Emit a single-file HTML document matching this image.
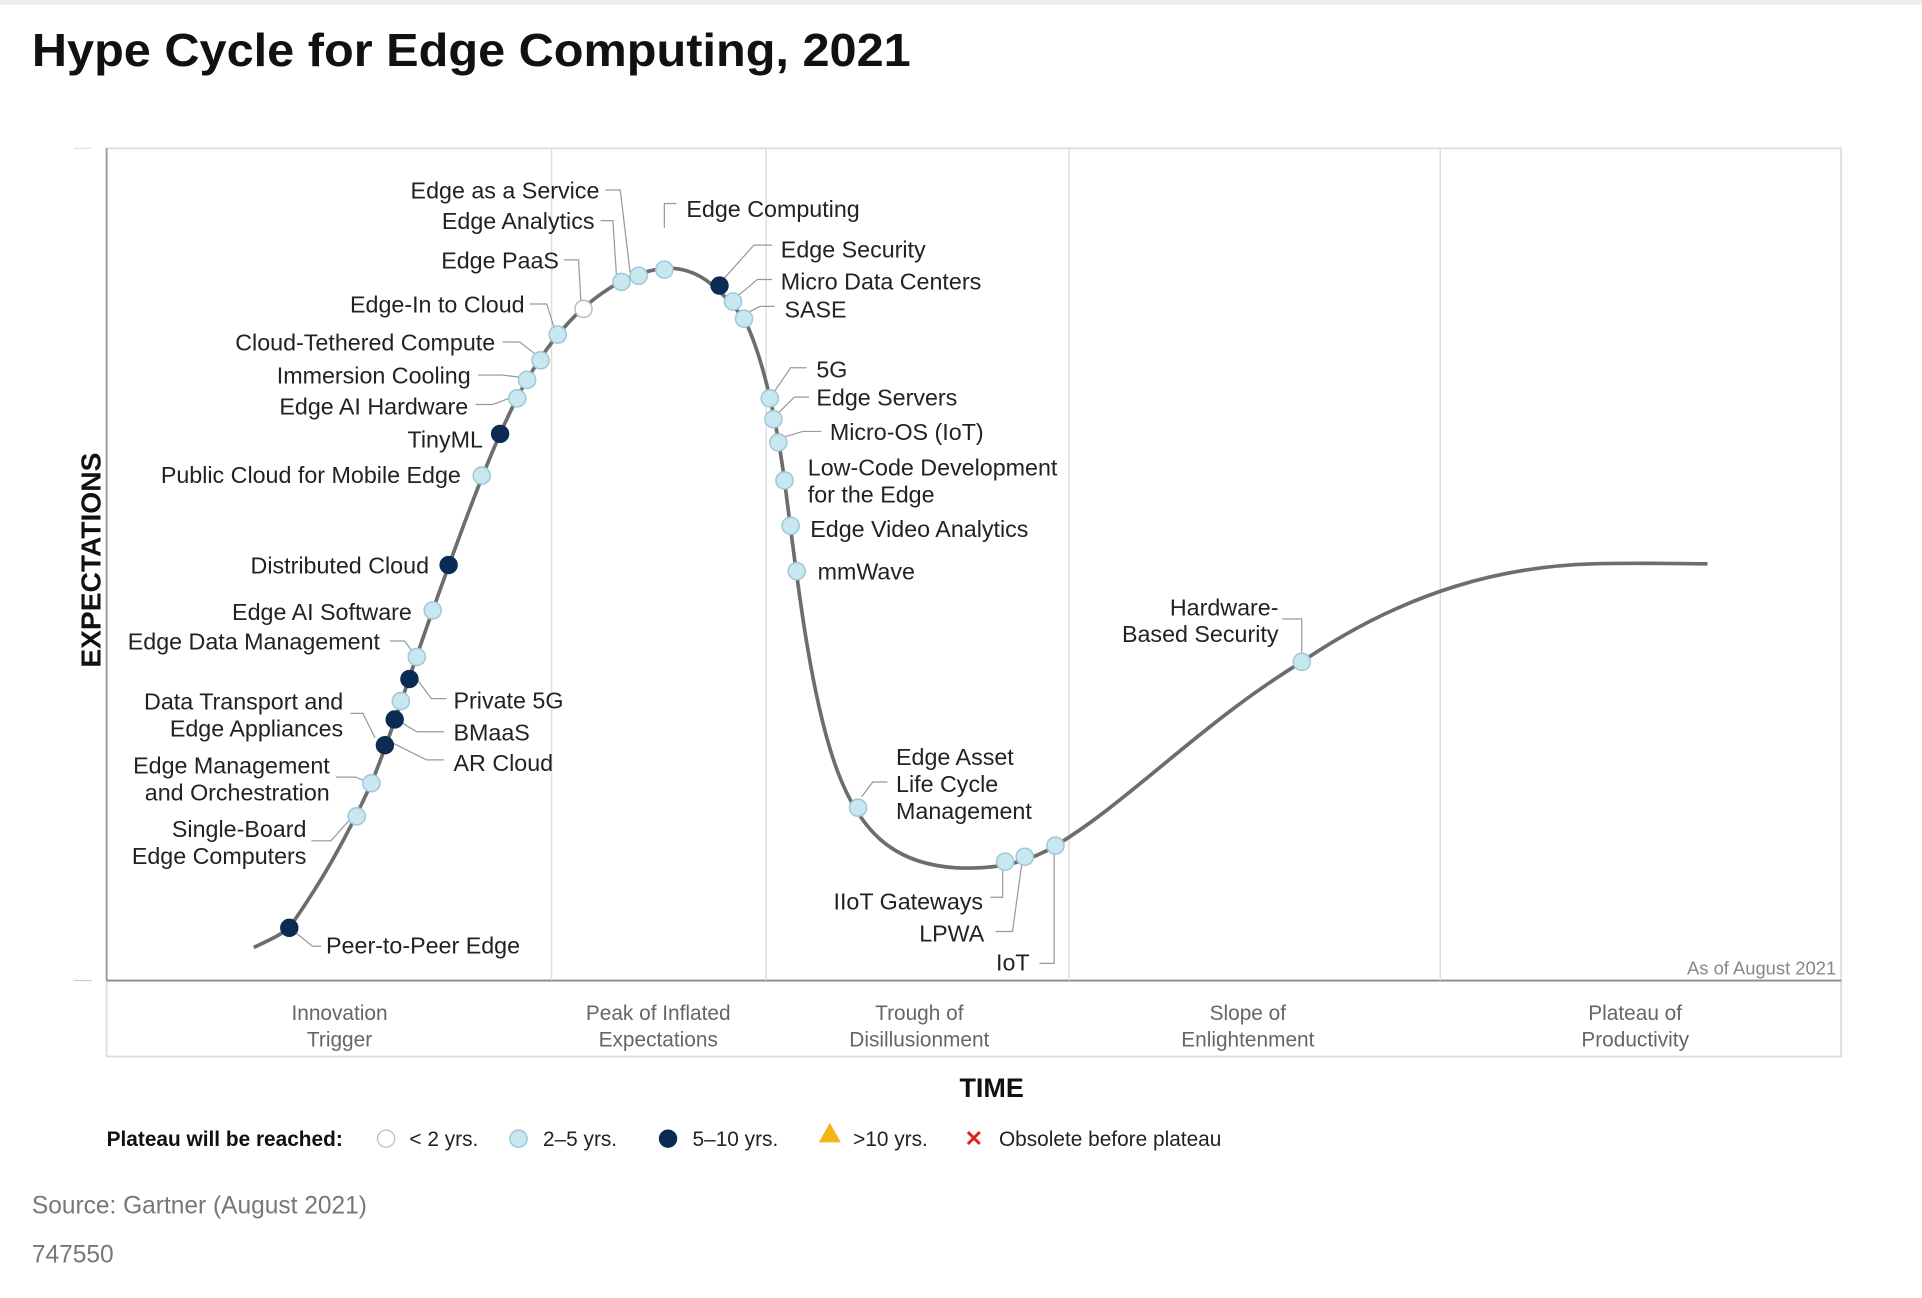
<!DOCTYPE html>
<html><head><meta charset="utf-8"><style>
html,body{margin:0;padding:0;background:#fff;}
svg{display:block;}
text{font-family:"Liberation Sans",sans-serif;}
.l{font-size:19px;fill:#222;}
.ph{font-size:17px;fill:#666;text-anchor:middle;}
.ld{stroke:#999;stroke-width:1;fill:none;}
.a{fill:#c8e7f0;stroke:#9cc9d6;stroke-width:1.2;}
.d{fill:#0b2b52;stroke:#0b2b52;}
</style></head><body>
<svg width="1922" height="1298" viewBox="0 0 1568 1059" preserveAspectRatio="none" xmlns="http://www.w3.org/2000/svg">
<rect x="0" y="0" width="1568" height="1059" fill="#fff"/>
<rect x="0" y="0" width="1568" height="4" fill="#eee"/>
<text x="26" y="54" textLength="717" lengthAdjust="spacingAndGlyphs" style="font-size:38px;font-weight:bold;fill:#111">Hype Cycle for Edge Computing, 2021</text>
<rect x="87" y="121" width="1415" height="741" fill="none" stroke="#ddd" stroke-width="1.5"/>
<line x1="87" y1="800" x2="1502" y2="800" stroke="#888" stroke-width="1.5"/>
<line x1="87" y1="121" x2="87" y2="800" stroke="#999" stroke-width="1.5"/>
<line x1="60" y1="121" x2="75" y2="121" stroke="#ddd"/>
<line x1="60" y1="800" x2="75" y2="800" stroke="#ccc"/>
<g stroke="#ddd" stroke-width="1.2">
<line x1="450" y1="121" x2="450" y2="800"/><line x1="625" y1="121" x2="625" y2="800"/>
<line x1="872" y1="121" x2="872" y2="800"/><line x1="1175" y1="121" x2="1175" y2="800"/>
</g>
<text class="ph" x="277" y="832">Innovation</text><text class="ph" x="277" y="854">Trigger</text>
<text class="ph" x="537" y="832">Peak of Inflated</text><text class="ph" x="537" y="854">Expectations</text>
<text class="ph" x="750" y="832">Trough of</text><text class="ph" x="750" y="854">Disillusionment</text>
<text class="ph" x="1018" y="832">Slope of</text><text class="ph" x="1018" y="854">Enlightenment</text>
<text class="ph" x="1334" y="832">Plateau of</text><text class="ph" x="1334" y="854">Productivity</text>
<text x="1498" y="795" style="font-size:15px;fill:#888;text-anchor:end">As of August 2021</text>
<text x="809" y="895" style="font-size:22px;font-weight:bold;fill:#111;text-anchor:middle">TIME</text>
<text transform="translate(82,457) rotate(-90)" style="font-size:23px;font-weight:bold;fill:#111;text-anchor:middle">EXPECTATIONS</text>
<path d="M207,773 C222,766 230,762 236,757 C262,720 282,685 303,639 C320,597 335,548 353,498 C372,445 390,395 408,354 C425,315 445,280 475,252 C500,230 525,218 550,219 C575,221 590,240 607,260 C622,290 633,340 640,392 C650,470 660,560 680,620 C700,680 730,705 780,708 C820,710 845,700 861,690 C920,655 980,590 1062,540 C1150,480 1230,462 1300,460 C1340,459 1370,460 1393,460" fill="none" stroke="#6d6d6d" stroke-width="3"/>
<g class="ld">
<path d="M494,155 H506 L514,222"/><path d="M490,180 H500 L503,226"/><path d="M460,212 H472 L474,248"/>
<path d="M542,186 V166 H552"/><path d="M590,228 L615,200 H630"/><path d="M600,243 L618,228 H630"/><path d="M608,256 L620,250 H632"/>
<path d="M432,248 H446 L452,267"/><path d="M410,279 H424 L438,290"/><path d="M390,306 H410 L426,308"/><path d="M388,330 H402 L418,324"/>
<path d="M630,322 L645,300 H658"/><path d="M634,338 L648,324 H660"/><path d="M638,357 L655,352 H670"/>
<path d="M318,523 H330 L337,532"/><path d="M286,582 H296 L306,602"/><path d="M274,634 H290 L300,638"/><path d="M254,686 H270 L286,668"/>
<path d="M340,554 L352,570 H364"/><path d="M325,588 L340,597 H362"/><path d="M318,605 L348,620 H362"/>
<path d="M240,760 L255,772 H262"/><path d="M703,650 L712,638 H724"/>
<path d="M818,705 V732 H808"/><path d="M834,702 L826,760 H812"/><path d="M860,695 V786 H848"/>
<path d="M1046,505 H1062 V536"/>
</g>
<g>
<circle class="d" cx="236" cy="757" r="7"/>
<circle class="a" cx="291" cy="666" r="7"/><circle class="a" cx="303" cy="639" r="7"/>
<circle class="d" cx="314" cy="608" r="7"/><circle class="d" cx="322" cy="587" r="7"/>
<circle class="a" cx="327" cy="572" r="7"/><circle class="d" cx="334" cy="554" r="7"/>
<circle class="a" cx="340" cy="536" r="7"/><circle class="a" cx="353" cy="498" r="7"/>
<circle class="d" cx="366" cy="461" r="7"/><circle class="a" cx="393" cy="388" r="7"/>
<circle class="d" cx="408" cy="354" r="7"/><circle class="a" cx="422" cy="325" r="7"/>
<circle class="a" cx="430" cy="310" r="7"/><circle class="a" cx="441" cy="294" r="7"/>
<circle class="a" cx="455" cy="273" r="7"/><circle cx="476" cy="252" r="7" fill="#fff" stroke="#bbb" stroke-width="1.2"/>
<circle class="a" cx="507" cy="230" r="7"/><circle class="a" cx="521" cy="225" r="7"/><circle class="a" cx="542" cy="220" r="7"/>
<circle class="d" cx="587" cy="233" r="7"/><circle class="a" cx="598" cy="246" r="7"/><circle class="a" cx="607" cy="260" r="7"/>
<circle class="a" cx="628" cy="325" r="7"/><circle class="a" cx="631" cy="342" r="7"/><circle class="a" cx="635" cy="361" r="7"/>
<circle class="a" cx="640" cy="392" r="7"/><circle class="a" cx="645" cy="429" r="7"/><circle class="a" cx="650" cy="466" r="7"/>
<circle class="a" cx="700" cy="659" r="7"/><circle class="a" cx="820" cy="703" r="7"/><circle class="a" cx="836" cy="699" r="7"/>
<circle class="a" cx="861" cy="690" r="7"/><circle class="a" cx="1062" cy="540" r="7"/>
</g>
<g class="l">
<text x="489" y="162" text-anchor="end">Edge as a Service</text>
<text x="485" y="187" text-anchor="end">Edge Analytics</text>
<text x="456" y="219" text-anchor="end">Edge PaaS</text>
<text x="428" y="255" text-anchor="end">Edge-In to Cloud</text>
<text x="404" y="286" text-anchor="end">Cloud-Tethered Compute</text>
<text x="384" y="313" text-anchor="end">Immersion Cooling</text>
<text x="382" y="338" text-anchor="end">Edge AI Hardware</text>
<text x="394" y="365" text-anchor="end">TinyML</text>
<text x="376" y="394" text-anchor="end">Public Cloud for Mobile Edge</text>
<text x="350" y="468" text-anchor="end">Distributed Cloud</text>
<text x="336" y="506" text-anchor="end">Edge AI Software</text>
<text x="310" y="530" text-anchor="end">Edge Data Management</text>
<text x="280" y="579" text-anchor="end">Data Transport and</text>
<text x="280" y="601" text-anchor="end">Edge Appliances</text>
<text x="269" y="631" text-anchor="end">Edge Management</text>
<text x="269" y="653" text-anchor="end">and Orchestration</text>
<text x="250" y="683" text-anchor="end">Single-Board</text>
<text x="250" y="705" text-anchor="end">Edge Computers</text>
<text x="266" y="778">Peer-to-Peer Edge</text>
<text x="370" y="578">Private 5G</text>
<text x="370" y="604">BMaaS</text>
<text x="370" y="629">AR Cloud</text>
<text x="560" y="177">Edge Computing</text>
<text x="637" y="210">Edge Security</text>
<text x="637" y="236">Micro Data Centers</text>
<text x="640" y="259">SASE</text>
<text x="666" y="308">5G</text>
<text x="666" y="331">Edge Servers</text>
<text x="677" y="359">Micro-OS (IoT)</text>
<text x="659" y="388">Low-Code Development</text>
<text x="659" y="410">for the Edge</text>
<text x="661" y="438">Edge Video Analytics</text>
<text x="667" y="473">mmWave</text>
<text x="731" y="624">Edge Asset</text>
<text x="731" y="646">Life Cycle</text>
<text x="731" y="668">Management</text>
<text x="802" y="742" text-anchor="end">IIoT Gateways</text>
<text x="803" y="768" text-anchor="end">LPWA</text>
<text x="840" y="792" text-anchor="end">IoT</text>
<text x="1043" y="502" text-anchor="end">Hardware-</text>
<text x="1043" y="524" text-anchor="end">Based Security</text>
</g>
<text x="87" y="935" style="font-size:17px;font-weight:bold;fill:#111">Plateau will be reached:</text>
<circle cx="315" cy="929" r="7" fill="#fff" stroke="#bbb"/>
<text x="334" y="935" style="font-size:17px;fill:#222">&lt; 2 yrs.</text>
<circle class="a" cx="423" cy="929" r="7"/>
<text x="443" y="935" style="font-size:17px;fill:#222">2–5 yrs.</text>
<circle class="d" cx="545" cy="929" r="7"/>
<text x="565" y="935" style="font-size:17px;fill:#222">5–10 yrs.</text>
<polygon points="677,916 668,932 686,932" fill="#f2b51a"/>
<text x="696" y="935" style="font-size:17px;fill:#222">&gt;10 yrs.</text>
<text x="787" y="935" style="font-size:18px;font-weight:bold;fill:#d22">✕</text>
<text x="815" y="935" style="font-size:17px;fill:#222">Obsolete before plateau</text>
<text x="26" y="990" style="font-size:20px;fill:#777">Source: Gartner (August 2021)</text>
<text x="26" y="1030" style="font-size:20px;fill:#777">747550</text>
</svg>
</body></html>
